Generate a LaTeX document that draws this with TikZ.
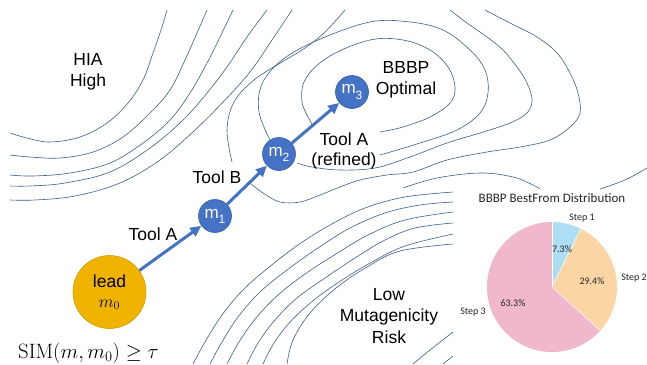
\documentclass[tikz,border=0pt]{standalone}
\usepackage[no-math]{fontspec}
\setmainfont{Liberation Sans}
\newfontfamily\chartfont{Carlito}
\usetikzlibrary{arrows.meta}
\definecolor{contour}{RGB}{62,92,138}
\definecolor{nodeblue}{RGB}{68,114,196}
\definecolor{nodeedge}{RGB}{55,95,170}
\definecolor{leadgold}{RGB}{240,180,0}
\definecolor{leadedge}{RGB}{205,155,0}
\definecolor{stepone}{RGB}{173,222,244}
\definecolor{steptwo}{RGB}{251,214,164}
\definecolor{stepthree}{RGB}{240,183,205}
\definecolor{charttext}{RGB}{38,38,38}
\newcommand{\msubs}[1]{m\raisebox{-0.3em}{\fontsize{12}{12}\selectfont #1}}
\tikzset{
  cline/.style={draw=contour, line width=0.6pt, smooth, tension=0.6},
  mol/.style={circle, fill=nodeblue, draw=nodeedge, line width=0.6pt, minimum size=33pt, inner sep=0pt, text=white, font=\fontsize{17}{17}\selectfont},
  leadnode/.style={circle, fill=leadgold, draw=leadedge, line width=0.6pt, minimum size=73pt, inner sep=0pt, align=center, font=\fontsize{17.5}{22}\selectfont},
  lab/.style={inner sep=0pt, anchor=base, font=\fontsize{17.5}{21}\selectfont},
  flow/.style={draw=nodeblue, line width=3pt, -{Triangle[length=11pt,width=10pt]}},
  pielab/.style={inner sep=0pt, text=charttext, font=\chartfont\fontsize{10}{10}\selectfont},
  slicesep/.style={draw=white, line width=0.5pt}
}
\begin{document}
\begin{tikzpicture}[x=1pt,y=-1pt]
\useasboundingbox (0,0) rectangle (647,364);
% ---- contour lines: HIA high region
\draw[cline] plot coordinates {(167,10) (162,27) (153,53) (143,80) (128,103) (107,123) (80,137) (50,142) (27,138) (10,133)};
\draw[cline] plot coordinates {(207,10) (197,33) (185,60) (170,90) (150,113) (123,137) (93,152) (60,158) (30,157) (10,155)};
\draw[cline] plot coordinates {(233,10) (220,37) (207,63) (190,93) (170,120) (143,143) (110,163) (70,173) (33,176) (10,175)};
\draw[cline] plot coordinates {(267,10) (247,37) (227,67) (207,93) (183,120) (150,148) (110,172) (65,183) (30,186) (10,186)};
\draw[cline] plot coordinates {(292,10) (272,40) (250,72) (225,100) (195,130) (160,160) (120,183) (75,196) (35,200) (10,200)};
% ---- contour lines: optimum region
\draw[cline] plot coordinates {(312,124) (302,102) (306,78) (330,56) (370,40) (403,40) (430,50) (448,67) (455,87) (450,103) (430,117) (403,127) (380,132)};
\draw[cline] plot coordinates {(270,140) (259,112) (262,84) (282,60) (318,40) (370,22) (410,22) (443,30) (470,50) (485,70) (488,93) (480,113) (457,130) (420,143) (380,155)};
\draw[cline] plot coordinates {(232,162) (227,130) (234,102) (254,80) (282,62) (305,48) (325,32) (345,10)};
\draw[cline] plot coordinates {(450,10) (467,23) (487,37) (503,50) (517,67) (527,83) (532,100) (527,113) (510,123) (480,133) (447,143) (410,157) (375,168) (340,170) (312,167) (297,163)};
\draw[cline] plot coordinates {(485,10) (510,23) (537,37) (557,53) (570,73) (578,93) (580,113) (570,127) (550,140) (520,147) (487,152) (447,160) (413,172) (387,175) (360,180) (340,187) (320,195) (300,202) (280,202) (263,193) (250,183)};
\draw[cline] plot coordinates {(403,188) (437,178) (480,173) (513,177) (533,185) (540,189)};
\draw[cline] plot coordinates {(600,189) (625,180) (647,168)};
% ---- contour lines: low mutagenicity region
\draw[cline] plot coordinates {(193,364) (205,342) (222,315) (243,290) (268,268) (298,245) (330,225) (365,208) (405,197) (453,192)};
\draw[cline] plot coordinates {(210,364) (222,342) (238,317) (260,292) (287,270) (318,248) (350,228) (385,213) (420,205) (453,202)};
\draw[cline] plot coordinates {(227,364) (239,342) (256,318) (278,295) (305,274) (336,254) (368,235) (405,220) (453,212)};
\draw[cline] plot coordinates {(247,364) (258,343) (275,320) (297,298) (325,278) (355,258) (385,240) (415,228) (453,223)};
\draw[cline] plot coordinates {(263,364) (274,343) (291,321) (314,300) (342,280) (372,262) (405,246) (453,234)};
\draw[cline] plot coordinates {(287,364) (293,340) (310,313) (336,288) (367,267) (400,251) (453,244)};
\draw[cline] plot coordinates {(413,364) (430,350) (453,332)};
\draw[cline] plot coordinates {(443,364) (453,356)};
% ---- region labels
\node[lab] (hia1) at (88,65) {HIA};
\node[lab] (hia2) at (88,86) {High};
\node[lab] (opt1) at (406,73) {BBBP};
\node[lab] (opt2) at (406,94) {Optimal};
\node[lab] (low1) at (389,300) {Low};
\node[lab] (low2) at (389,321.5) {Mutagenicity};
\node[lab] (low3) at (389,343) {Risk};
% ---- molecules
\node[leadnode] (lead) at (109.5,292) {lead\\[-2pt]$m_0$};
\node[mol] (m1) at (215,216) {\msubs{1}};
\node[mol] (m2) at (279,154) {\msubs{2}};
\node[mol] (m3) at (352,92) {\msubs{3}};
\draw[flow] (lead) -- (m1);
\draw[flow] (m1) -- (m2);
\draw[flow] (m2) -- (m3);
\node[lab] (ta) at (153,240) {Tool A};
\node[lab] (tb) at (217,183) {Tool B};
\node[lab] (tr1) at (344,145) {Tool A};
\node[lab] (tr2) at (344,165) {(refined)};
\node[inner sep=0pt, anchor=base west, font=\fontsize{19.5}{19.5}\selectfont] (sim) at (18,358) {$\mathrm{SIM}(m,m_0)\geq\tau$};
% ---- pie chart
\node[inner sep=0pt, text=charttext, font=\chartfont\fontsize{13}{13}\selectfont] (title) at (552,198) {BBBP BestFrom Distribution};
\begin{scope}[shift={(552,287)}]
  \fill[stepone] (0,0) -- (-90:65) arc[start angle=-90, end angle=-63.72, radius=65] -- cycle;
  \fill[steptwo] (0,0) -- (-63.72:65) arc[start angle=-63.72, end angle=42.12, radius=65] -- cycle;
  \fill[stepthree] (0,0) -- (42.12:65) arc[start angle=42.12, end angle=270, radius=65] -- cycle;
  \draw[slicesep] (0,0) -- (-90:65);
  \draw[slicesep] (0,0) -- (-63.72:65);
  \draw[slicesep] (0,0) -- (42.12:65);
\end{scope}
\node[pielab] (s1) at (582,218) {Step 1};
\node[pielab] (s2) at (634,278) {Step 2};
\node[pielab] (s3) at (473,312) {Step 3};
\node[pielab] (p1) at (562,249) {7.3\%};
\node[pielab] (p2) at (592,281) {29.4\%};
\node[pielab] (p3) at (513,303) {63.3\%};
\end{tikzpicture}
\end{document}
